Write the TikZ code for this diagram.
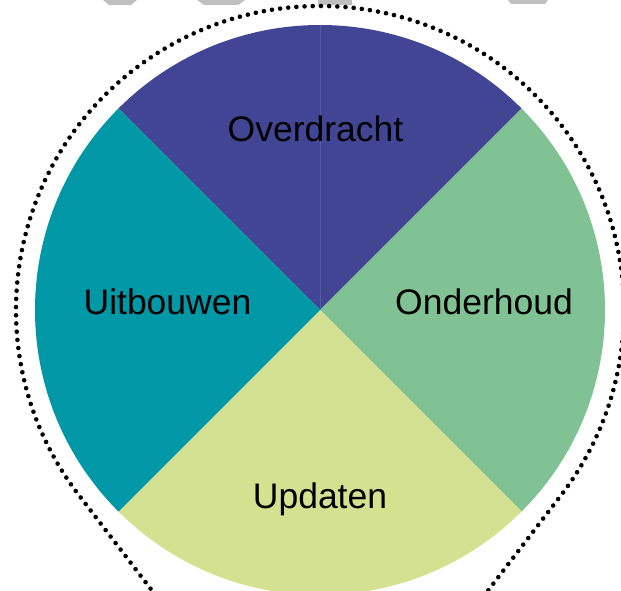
\documentclass[tikz,border=0pt]{standalone}
\usepackage{fontspec}
\setmainfont{Liberation Sans}
\usepackage{tikz}
\usetikzlibrary{calc}
\definecolor{overdrachtblue}{RGB}{65,69,147}
\definecolor{uitbouwenteal}{RGB}{0,152,166}
\definecolor{onderhoudgreen}{RGB}{128,194,148}
\definecolor{updatenyellow}{RGB}{212,225,144}
\tikzstyle{phase}=[
        font=\fontsize{35.5}{40}\selectfont,
        text=black,
        anchor=base,
        inner sep=0pt
]
\tikzstyle{pin}=[
        draw=black,
        line width=4.6,
        line cap=round,
        dash pattern=on 0pt off 8.2pt
]
\tikzstyle{cutoff}=[
        fill=black!25
]

\begin{document}
\begin{tikzpicture}[x=1pt,y=-1pt]
                        \useasboundingbox (0,0) rectangle (621,591);
                        \clip (0,0) rectangle (621,591);

                        \coordinate (centre) at (320,310);
                        \coordinate (tip) at (320,810);

                        % grey bits cut off at the top edge
                        \fill[cutoff] (103,0) -- (137,0) -- (131,5) -- (109,5) -- cycle;
                        \fill[cutoff] (197,0) -- (245,0) -- (238,5) -- (204,5) -- cycle;
                        \fill[cutoff] (318,0) rectangle (352,5);
                        \fill[cutoff] (508,0) -- (548,0) -- (545,4) -- (511,4) -- cycle;

                        % dotted pin outline
                        \draw[pin] (tip) -- ($(centre)+(142:304)$)
                            arc[start angle=142, end angle=398, radius=304] -- (tip);

                        \foreach \colour/\start in {overdrachtblue/225, onderhoudgreen/315, updatenyellow/45, uitbouwenteal/135} {
                            \fill[\colour] (centre) -- ++(\start:285)
                                arc[start angle=\start, end angle=\start+90, radius=285] -- cycle;
                        }

                        \draw[overdrachtblue!88!white, line width=0.8] (centre) -- ++(270:285);

                        \node[phase] (overdracht) at (315.5,142) {Overdracht};
                        \node[phase] (uitbouwen) at (167.5,314) {Uitbouwen};
                        \node[phase] (onderhoud) at (484,314) {Onderhoud};
                        \node[phase] (updaten) at (320,508) {Updaten};
                    \end{tikzpicture}
\end{document}
